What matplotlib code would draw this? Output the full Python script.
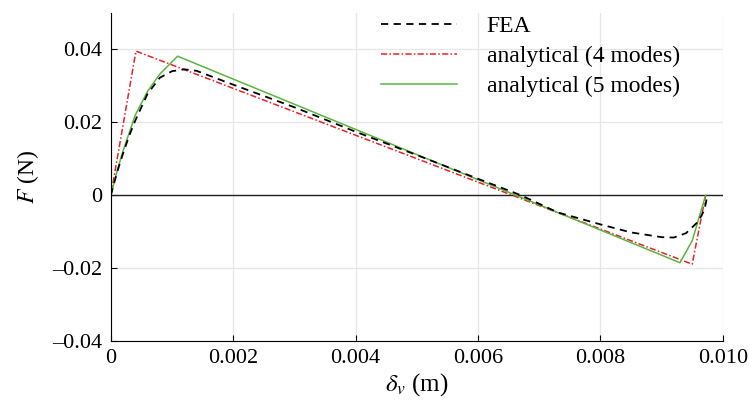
import matplotlib
matplotlib.use("Agg")
import matplotlib.pyplot as plt
from matplotlib.ticker import FuncFormatter

# force-displacement curves
fea_x = [0, 0.0001, 0.0002, 0.0003, 0.0004, 0.0006, 0.0008, 0.0010, 0.0012, 0.0014,
         0.002, 0.003, 0.004, 0.005, 0.006, 0.0067, 0.0073, 0.008, 0.0085, 0.009,
         0.0092, 0.0094, 0.0096, 0.0097, 0.00975]
fea_y = [0, 0.0062, 0.0115, 0.0163, 0.0205, 0.0278, 0.0322, 0.0340, 0.0345, 0.0341,
         0.0303, 0.0241, 0.0174, 0.0110, 0.0045, 0.0, -0.0047, -0.0080, -0.0102, -0.0115,
         -0.0116, -0.0104, -0.0072, -0.0040, 0.0]

an4_x = [0, 0.00041, 0.0095, 0.00972]
an4_y = [0, 0.0395, -0.0189, 0.0]

an5_x = [0, 0.0001, 0.0002, 0.0004, 0.0006, 0.0008, 0.00109, 0.0093, 0.0095, 0.00972]
an5_y = [0, 0.0065, 0.0122, 0.0220, 0.0285, 0.0332, 0.0381, -0.0185, -0.0125, 0.0]

x_ticks = [0, 0.002, 0.004, 0.006, 0.008, 0.010]
y_ticks = [-0.04, -0.02, 0, 0.02, 0.04]

plt.rcParams['font.family'] = ['Liberation Serif', 'DejaVu Serif']
plt.rcParams['mathtext.fontset'] = 'stix'
plt.rcParams['font.size'] = 16

fig = plt.figure(figsize=(7.49, 4.13), dpi=100)
ax = fig.add_axes([0.148, 0.174, 0.817, 0.795])
ax.set_axisbelow(True)

ax.axhline(0, color='#222222', lw=1.0, zorder=1.8)
ax.plot(fea_x, fea_y, color='black', lw=1.3, ls=(0, (4, 3)), label='FEA', zorder=3)
ax.plot(an4_x, an4_y, color='#e8202a', lw=1.1, ls=(0, (4, 1.5, 1, 1.5)),
        label='analytical (4 modes)', zorder=2)
ax.plot(an5_x, an5_y, color='#5ab53e', lw=1.1, label='analytical (5 modes)', zorder=2)

ax.set_xlim(0, 0.010)
ax.set_ylim(-0.04, 0.05)
ax.set_xticks(x_ticks)
ax.set_yticks(y_ticks)
ax.xaxis.set_major_formatter(FuncFormatter(lambda v, p: '0' if abs(v) < 1e-12 else '%.3f' % v))
ax.yaxis.set_major_formatter(FuncFormatter(lambda v, p: '0' if abs(v) < 1e-12 else ('%.2f' % v).replace('-', '\u2013')))
ax.tick_params(direction='in', length=4, width=0.8, pad=6)

ax.grid(True, color='#e6e6e6', lw=0.9)
ax.spines['top'].set_visible(False)
ax.spines['right'].set_visible(False)

ax.set_xlabel(r'$\delta_v$ (m)', fontsize=18, labelpad=2)
ax.set_ylabel(r'$F$ (N)', fontsize=17, labelpad=8)

ax.legend(loc='upper right', frameon=False, fontsize=17, handlelength=3.2, handletextpad=1.25,
          labelspacing=0.36, borderaxespad=0.0, bbox_to_anchor=(0.945, 1.02))

fig.savefig('out.png', dpi=100)
